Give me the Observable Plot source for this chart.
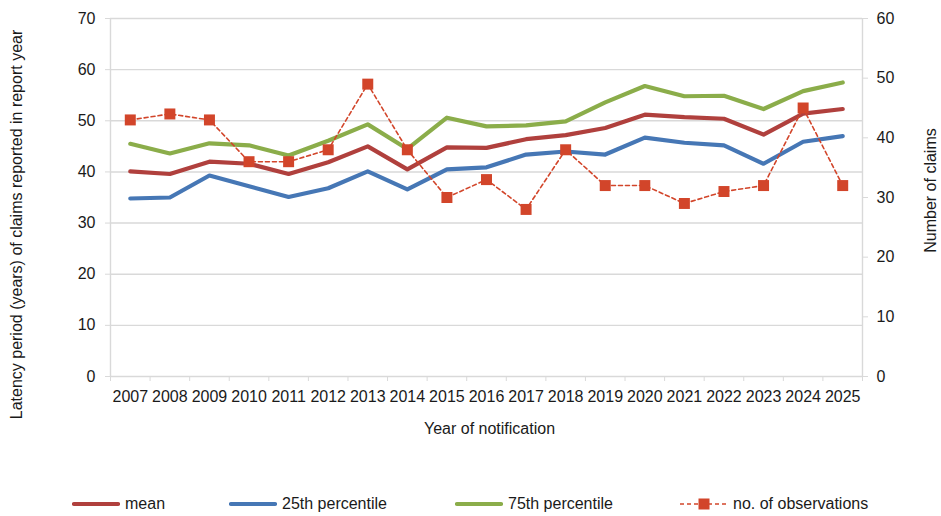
<!DOCTYPE html>
<html><head><meta charset="utf-8">
<script src="https://cdn.jsdelivr.net/npm/d3@7"></script>
<script src="https://cdn.jsdelivr.net/npm/@observablehq/plot@0.6"></script>
<style>
body{margin:0;background:#fff;font-family:"Liberation Sans",Arial,sans-serif;color:#1a1a1a;}
#chart{position:relative;width:941px;height:516px;overflow:hidden;}
.item{position:absolute;top:493px;height:22px;display:flex;align-items:center;font-size:16px;white-space:nowrap;}
.item svg{margin-right:5px;}
</style></head><body>
<div id="chart"></div>
<script>
const years = [2007,2008,2009,2010,2011,2012,2013,2014,2015,2016,2017,2018,2019,2020,2021,2022,2023,2024,2025];
const meanVals = [40.1,39.6,42.0,41.6,39.6,41.9,45.0,40.5,44.8,44.7,46.4,47.2,48.6,51.2,50.7,50.4,47.3,51.4,52.3];
const p25Vals  = [34.8,35.0,39.3,37.2,35.1,36.8,40.1,36.6,40.5,40.9,43.4,44.0,43.4,46.7,45.7,45.2,41.6,45.9,47.0];
const p75Vals  = [45.5,43.6,45.6,45.2,43.2,46.1,49.3,44.5,50.6,48.9,49.1,49.9,53.6,56.8,54.8,54.9,52.3,55.8,57.5];
const obsVals  = [43,44,43,36,36,38,49,38,30,33,28,38,32,32,29,31,32,45,32];
const leftTicks = [0,10,20,30,40,50,60,70];
const rightTicks = [0,10,20,30,40,50,60];
const seriesNames = ["mean","25th percentile","75th percentile","no. of observations"];
const colors = {mean:"#B0403D", p25:"#4677B5", p75:"#8BAD4A", obs:"#D2452A"};

const k = 70/60; // right-axis values mapped onto left scale
const grid = "#d9d9d9";

const plot = Plot.plot({
  width: 941, height: 480,
  marginLeft: 110, marginRight: 79, marginTop: 18, marginBottom: 104,
  style: {fontFamily: "'Liberation Sans', Arial, sans-serif", fontSize: "16px", color: "#1a1a1a", background: "#fff"},
  x: {type: "linear", domain: [-0.5, years.length - 0.5]},
  y: {domain: [0, 70]},
  marks: [
    Plot.gridY(leftTicks.filter(d => d > 0), {stroke: grid, strokeOpacity: 1, strokeWidth: 1.4}),
    Plot.ruleY([0], {stroke: grid, strokeWidth: 1.4}),
    Plot.ruleX([-0.5, years.length - 0.5], {stroke: grid, strokeWidth: 1.4}),
    Plot.axisY({ticks: leftTicks, tickSize: 5, tickPadding: 10, stroke: grid, strokeOpacity: 1, label: null}),
    Plot.axisY({anchor: "right", ticks: rightTicks.map(d => d * k), tickFormat: d => Math.round(d / k), tickSize: 5, tickPadding: 9, stroke: grid, strokeOpacity: 1, label: null}),
    Plot.axisX({ticks: d3.range(-0.5, years.length, 1), tickFormat: () => "", tickSize: 5, stroke: grid, strokeOpacity: 1, label: null}),
    Plot.axisX({ticks: d3.range(years.length), tickFormat: i => String(years[i]), tickSize: 0, tickPadding: 14, label: null}),
    Plot.line(meanVals, {x: (d, i) => i, y: d => d, stroke: colors.mean, strokeWidth: 4.2, strokeLinejoin: "round", strokeLinecap: "round"}),
    Plot.line(p25Vals, {x: (d, i) => i, y: d => d, stroke: colors.p25, strokeWidth: 4.2, strokeLinejoin: "round", strokeLinecap: "round"}),
    Plot.line(p75Vals, {x: (d, i) => i, y: d => d, stroke: colors.p75, strokeWidth: 4.2, strokeLinejoin: "round", strokeLinecap: "round"}),
    Plot.line(obsVals, {x: (d, i) => i, y: d => d * k, stroke: colors.obs, strokeWidth: 1.6, strokeDasharray: "4,3"}),
    Plot.dot(obsVals, {x: (d, i) => i, y: d => d * k, symbol: "square", fill: colors.obs, stroke: "none", r: 6.2}),
    Plot.text(["Latency period (years) of claims reported in report year"], {frameAnchor: "left", textAnchor: "middle", rotate: -90, dx: -94, dy: 27, fontSize: 16, fill: "#1a1a1a"}),
    Plot.text(["Number of claims"], {frameAnchor: "right", textAnchor: "middle", rotate: -90, dx: 68, dy: -7, fontSize: 16, fill: "#1a1a1a"}),
    Plot.text(["Year of notification"], {frameAnchor: "bottom", dy: 57, dx: 3, fontSize: 16, fill: "#1a1a1a"})
  ]
});
const chart = document.getElementById("chart");
chart.appendChild(plot);

// legend below the chart area
const legendItems = [
  {name: seriesNames[0], color: colors.mean, left: 72, dashed: false},
  {name: seriesNames[1], color: colors.p25, left: 229, dashed: false},
  {name: seriesNames[2], color: colors.p75, left: 455, dashed: false},
  {name: seriesNames[3], color: colors.obs, left: 680, dashed: true}
];
for (const it of legendItems) {
  const div = document.createElement("div");
  div.className = "item";
  div.style.left = it.left + "px";
  const sw = it.dashed
    ? `<svg width="48" height="14"><line x1="0" y1="7" x2="48" y2="7" stroke="${it.color}" stroke-width="1.6" stroke-dasharray="4,3"/><rect x="18.5" y="1.5" width="11" height="11" fill="${it.color}"/></svg>`
    : `<svg width="48" height="14"><line x1="2" y1="7" x2="46" y2="7" stroke="${it.color}" stroke-width="4.2" stroke-linecap="round"/></svg>`;
  div.innerHTML = sw + `<span>${it.name}</span>`;
  chart.appendChild(div);
}
</script>
</body></html>
